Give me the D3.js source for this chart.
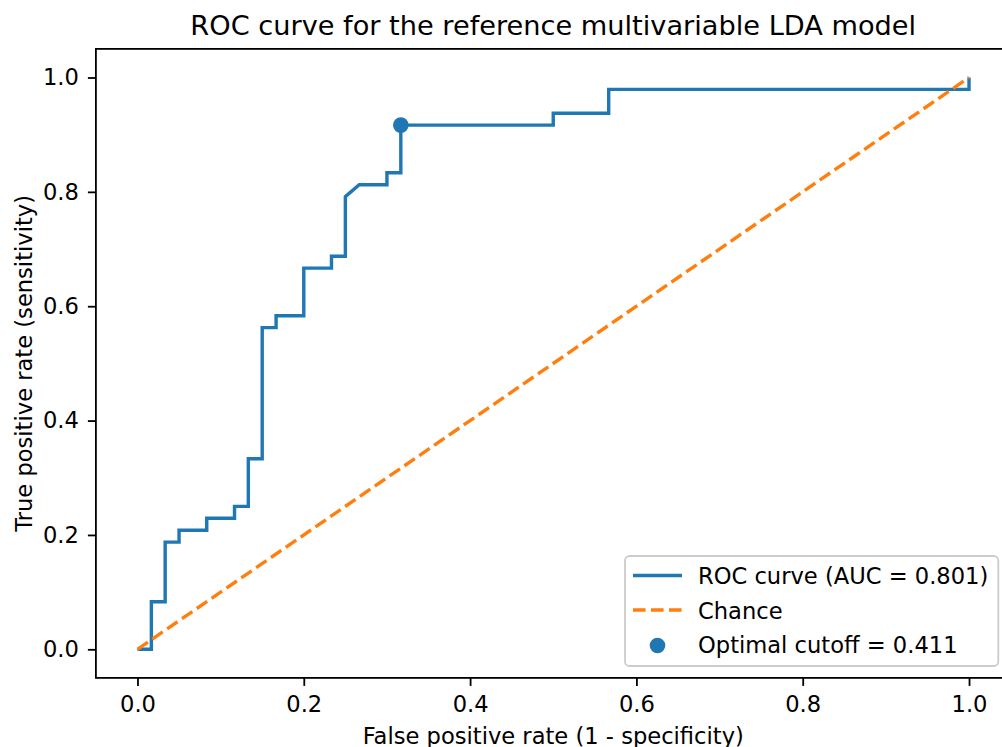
<!DOCTYPE html>
<html>
<head>
<meta charset="utf-8">
<script src="https://cdn.jsdelivr.net/npm/d3@7"></script>
<style>
  html, body { margin: 0; padding: 0; background: #ffffff; }
  svg { display: block; font-family: "DejaVu Sans", sans-serif; }
</style>
</head>
<body>
<svg id="chart" width="1002" height="747"></svg>
<script>
// ---- data ----
const fprValues = [0, 0.0167, 0.0167, 0.0333, 0.0333, 0.05, 0.05, 0.0833, 0.0833, 0.1167, 0.1167,
  0.1333, 0.1333, 0.15, 0.15, 0.1667, 0.1667, 0.2, 0.2, 0.2333, 0.2333, 0.25, 0.25, 0.2667,
  0.3, 0.3, 0.3167, 0.3167, 0.5, 0.5, 0.5667, 0.5667, 1, 1];
const tprValues = [0, 0, 0.0833, 0.0833, 0.1875, 0.1875, 0.2083, 0.2083, 0.2292, 0.2292, 0.25,
  0.25, 0.3333, 0.3333, 0.5625, 0.5625, 0.5833, 0.5833, 0.6667, 0.6667, 0.6875, 0.6875, 0.7917, 0.8125,
  0.8125, 0.8333, 0.8333, 0.9167, 0.9167, 0.9375, 0.9375, 0.9792, 0.9792, 1];
const chanceFpr = [0, 1];
const chanceTpr = [0, 1];
const optimalPoint = [0.3167, 0.9167];
const aucValue = 0.801;
const optimalCutoff = 0.411;
const xTicks = [0, 0.2, 0.4, 0.6, 0.8, 1.0];
const yTicks = [0, 0.2, 0.4, 0.6, 0.8, 1.0];
const titleText = "ROC curve for the reference multivariable LDA model";
const xLabelText = "False positive rate (1 - specificity)";
const yLabelText = "True positive rate (sensitivity)";
const legendLabels = [
  "ROC curve (AUC = " + aucValue.toFixed(3) + ")",
  "Chance",
  "Optimal cutoff = " + optimalCutoff.toFixed(3)
];

// ---- layout ----
const axLeft = 95.9, axRight = 1010.6, axTop = 48.9, axBottom = 677.9;
const blue = "#1f77b4", orange = "#ff7f0e";
const fontSize = 22.6, titleSize = 27.2;

const svg = d3.select("#chart");
svg.append("rect").attr("width", 1002).attr("height", 747).attr("fill", "#fff");

const x = d3.scaleLinear().domain([-0.05, 1.05]).range([axLeft, axRight]);
const y = d3.scaleLinear().domain([-0.05, 1.05]).range([axBottom, axTop]);

// axes
const xAxis = d3.axisBottom(x).tickValues(xTicks).tickFormat(d3.format(".1f"))
  .tickSize(8).tickPadding(10.5);
const yAxis = d3.axisLeft(y).tickValues(yTicks).tickFormat(d3.format(".1f"))
  .tickSize(8).tickPadding(9);

const gx = svg.append("g").attr("transform", `translate(0,${axBottom})`).call(xAxis);
const gy = svg.append("g").attr("transform", `translate(${axLeft},0)`).call(yAxis);
[gx, gy].forEach(g => {
  g.select(".domain").remove();
  g.selectAll(".tick line").attr("stroke", "#000").attr("stroke-width", 1.8);
  g.selectAll(".tick text").attr("fill", "#000").attr("font-size", fontSize)
    .attr("font-family", "DejaVu Sans, sans-serif");
});

// ROC line
const pts = fprValues.map((f, i) => [f, tprValues[i]]);
const line = d3.line().x(d => x(d[0])).y(d => y(d[1]));
svg.append("path").datum(pts).attr("d", line)
  .attr("fill", "none").attr("stroke", blue).attr("stroke-width", 3.4)
  .attr("stroke-linejoin", "miter").attr("stroke-linecap", "butt");

// Chance line
const cpts = chanceFpr.map((f, i) => [f, chanceTpr[i]]);
svg.append("path").datum(cpts).attr("d", line)
  .attr("fill", "none").attr("stroke", orange).attr("stroke-width", 3.4)
  .attr("stroke-dasharray", "12.6,5.4");

// Optimal point
svg.append("circle").attr("cx", x(optimalPoint[0])).attr("cy", y(optimalPoint[1]))
  .attr("r", 7.8).attr("fill", blue);

// frame
svg.append("rect").attr("x", axLeft).attr("y", axTop)
  .attr("width", axRight - axLeft).attr("height", axBottom - axTop)
  .attr("fill", "none").attr("stroke", "#000").attr("stroke-width", 1.8);

// title and labels
svg.append("text").attr("x", (axLeft + axRight) / 2).attr("y", 35)
  .attr("text-anchor", "middle").attr("font-size", titleSize).attr("fill", "#000").text(titleText);
svg.append("text").attr("x", (axLeft + axRight) / 2).attr("y", 744)
  .attr("text-anchor", "middle").attr("font-size", fontSize).attr("fill", "#000").text(xLabelText);
svg.append("text")
  .attr("transform", `translate(31.5,${(axTop + axBottom) / 2}) rotate(-90)`)
  .attr("text-anchor", "middle").attr("font-size", fontSize).attr("fill", "#000").text(yLabelText);

// legend
const lg = svg.append("g");
lg.append("rect").attr("x", 625).attr("y", 556).attr("width", 373.3).attr("height", 110)
  .attr("rx", 4.5).attr("fill", "#fff").attr("fill-opacity", 0.8)
  .attr("stroke", "#cccccc").attr("stroke-width", 1.8);
const rowY = [584, 618.5, 653];
lg.append("line").attr("x1", 633).attr("x2", 682).attr("y1", rowY[0] - 8.5).attr("y2", rowY[0] - 8.5)
  .attr("stroke", blue).attr("stroke-width", 3.4);
lg.append("line").attr("x1", 633).attr("x2", 682).attr("y1", rowY[1] - 8.5).attr("y2", rowY[1] - 8.5)
  .attr("stroke", orange).attr("stroke-width", 3.4).attr("stroke-dasharray", "12.6,5.4");
lg.append("circle").attr("cx", 657.5).attr("cy", rowY[2] - 7.5).attr("r", 7.8).attr("fill", blue);
legendLabels.forEach((t, i) => {
  lg.append("text").attr("x", 698).attr("y", rowY[i]).attr("font-size", fontSize)
    .attr("fill", "#000").text(t);
});
</script>
</body>
</html>
